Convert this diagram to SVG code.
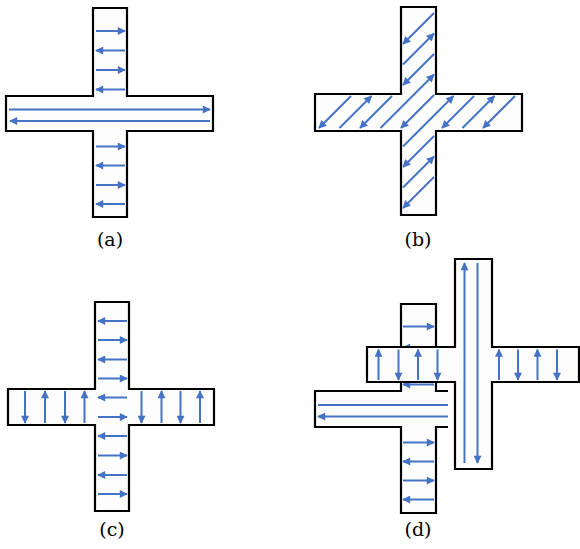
<svg xmlns="http://www.w3.org/2000/svg" width="580" height="549" viewBox="0 0 580 549">
<defs>
<marker id="ah" viewBox="0 0 10 10" refX="9" refY="5" markerWidth="9" markerHeight="8" markerUnits="userSpaceOnUse" orient="auto">
<path d="M0,0 L10,5 L0,10 Z" fill="#4472c4"/>
</marker>
</defs>
<style>
.shape{fill:#fdfdfd;stroke:#000;stroke-width:2.2;stroke-linejoin:miter}
.fillonly{fill:#fdfdfd;stroke:none}
.edge{fill:none;stroke:#000;stroke-width:2.2}
.a{stroke:#4472c4;stroke-width:2;fill:none;marker-end:url(#ah)}
.l{stroke:#4472c4;stroke-width:2;fill:none}
.lbl{font-family:"DejaVu Serif","Liberation Serif",serif;font-size:19px;text-anchor:middle;fill:#000}
</style>
<rect width="580" height="549" fill="#fff"/>

<g id="panel-a">
<path class="shape" d="M93,8 H127 V96 H213 V131 H127 V217 H93 V131 H6 V96 H93 Z"/>
<g class="arrows">
<path class="a" d="M96,31 H125"/>
<path class="a" d="M125,50.5 H96"/>
<path class="a" d="M96,70 H125"/>
<path class="a" d="M125,89.5 H96"/>
<path class="a" d="M9,109.5 H210"/>
<path class="a" d="M210,121 H10"/>
<path class="a" d="M96,146.5 H125"/>
<path class="a" d="M125,165.5 H96"/>
<path class="a" d="M96,185 H125"/>
<path class="a" d="M125,204 H96"/>
</g>
<text class="lbl" x="110" y="246">(a)</text>
</g>

<g id="panel-b">
<path class="shape" d="M401,7 H436 V94 H522 V131 H436 V215 H401 V131 H315 V94 H401 Z"/>
<g class="arrows">
<path class="a" d="M434,13 L403,44"/>
<path class="a" d="M351,96 L319,128"/>
<path class="a" d="M403,64.5 L434,33.5"/>
<path class="a" d="M339.5,128 L371.5,96"/>
<path class="a" d="M434,54 L403,85"/>
<path class="a" d="M392,96 L360,128"/>
<path class="a" d="M380.5,128 L434,74.5"/>
<path class="a" d="M434,95 L401,128"/>
<path class="a" d="M403,146.5 L453.5,96"/>
<path class="a" d="M474,96 L442,128"/>
<path class="a" d="M434,136 L403,167"/>
<path class="a" d="M462.5,128 L494.5,96"/>
<path class="a" d="M403,187.5 L434,156.5"/>
<path class="a" d="M515,96 L483,128"/>
<path class="a" d="M434,177 L403,208"/>
</g>
<text class="lbl" x="418" y="246">(b)</text>
</g>

<g id="panel-c">
<path class="shape" d="M95,302 H129 V389 H214 V425 H129 V511 H95 V425 H8 V389 H95 Z"/>
<g class="arrows">
<path class="a" d="M127,321 H98"/>
<path class="a" d="M98,340 H127"/>
<path class="a" d="M127,359.5 H98"/>
<path class="a" d="M98,378.5 H127"/>
<path class="a" d="M127,397.5 H98"/>
<path class="a" d="M98,417 H127"/>
<path class="a" d="M127,436 H98"/>
<path class="a" d="M98,455.5 H127"/>
<path class="a" d="M127,475 H98"/>
<path class="a" d="M98,494 H127"/>
<path class="a" d="M25,391 V423"/>
<path class="a" d="M45,423 V391"/>
<path class="a" d="M65,391 V423"/>
<path class="a" d="M84.5,423 V391"/>
<path class="a" d="M141.5,391 V423"/>
<path class="a" d="M161.5,423 V391"/>
<path class="a" d="M180.5,391 V423"/>
<path class="a" d="M200,423 V391"/>
</g>
<text class="lbl" x="112" y="536">(c)</text>
</g>

<g id="panel-d">
<g id="d-left-cross">
<path class="fillonly" d="M401,304 H436 V391 H448 V427 H436 V513 H401 V427 H315 V391 H401 Z"/>
<path class="edge" d="M448,391 H436 V304 H401 V391 H315 V427 H401 V513 H436 V427 H448"/>
<g class="arrows">
<path class="a" d="M403,326.5 H434"/>
<path class="a" d="M434,347.5 H403"/>
<path class="a" d="M403,366 H434"/>
<path class="a" d="M434,384.5 H403"/>
<path class="l" d="M318,405 H448"/>
<path class="a" d="M448,416.5 H318"/>
<path class="a" d="M403,442.5 H434"/>
<path class="a" d="M434,461.5 H403"/>
<path class="a" d="M403,480.5 H434"/>
<path class="a" d="M434,499.5 H403"/>
</g>
</g>
<g id="d-right-cross">
<path class="shape" d="M455,259 H492 V347 H579 V382 H492 V469 H455 V382 H367 V347 H455 Z"/>
<g class="arrows">
<path class="a" d="M464.5,463 V263"/>
<path class="a" d="M477.5,263 V463"/>
<path class="a" d="M378.5,380 V349.5"/>
<path class="a" d="M398.5,349.5 V380"/>
<path class="a" d="M418,380 V349.5"/>
<path class="a" d="M437.5,349.5 V380"/>
<path class="a" d="M499,380 V349.5"/>
<path class="a" d="M518,349.5 V380"/>
<path class="a" d="M537.5,380 V349.5"/>
<path class="a" d="M557,349.5 V380"/>
</g>
</g>
<text class="lbl" x="418" y="536">(d)</text>
</g>
</svg>
